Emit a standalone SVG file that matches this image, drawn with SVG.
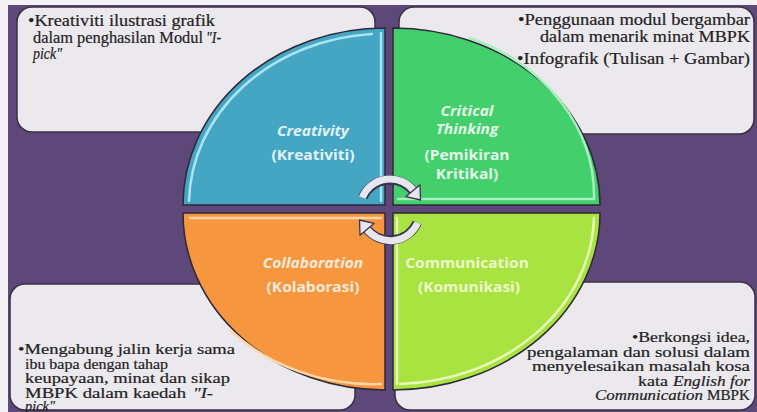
<svg xmlns="http://www.w3.org/2000/svg" width="757" height="412" viewBox="0 0 757 412">
<defs>
<style>
.box{fill:#ECE9EE;stroke:#3a3045;stroke-width:1.5}
.bt{font-family:"Liberation Serif","Times New Roman",serif;fill:#222;stroke:#222;stroke-width:0.2}
.t1{font-size:16px}
.t2{font-size:14px}
.it{font-style:italic}
.q{stroke:#2e2838;stroke-width:1.5}
.hl{fill:none;stroke-width:2.5;stroke-linecap:round}
.ct{font-family:"Open Sans","DejaVu Sans",sans-serif;font-weight:700;font-size:13.5px;text-anchor:middle}
.arc{fill:none;stroke-linecap:butt}
</style>
</defs>
<rect x="0" y="0" width="757" height="412" fill="#F4F2F5"/>
<rect x="8" y="5" width="749" height="407" fill="#5E4779"/>

<g id="box-tl">
<rect class="box" x="17" y="7" width="358" height="125" rx="15"/>
<text class="bt t1" x="28" y="26" textLength="187" lengthAdjust="spacingAndGlyphs">•Kreativiti ilustrasi grafik</text>
<text class="bt t1" x="33" y="42.5" textLength="170" lengthAdjust="spacingAndGlyphs">dalam penghasilan Modul</text>
<text class="bt t1 it" x="206" y="42.5" textLength="15" lengthAdjust="spacingAndGlyphs">"I-</text>
<text class="bt t1 it" x="33" y="59" textLength="29" lengthAdjust="spacingAndGlyphs">pick"</text>
</g>

<g id="box-tr">
<rect class="box" x="399" y="7" width="355" height="127" rx="15"/>
<text class="bt t1" x="518" y="25" textLength="232" lengthAdjust="spacingAndGlyphs">•Penggunaan modul bergambar</text>
<text class="bt t1" x="540" y="42" textLength="210" lengthAdjust="spacingAndGlyphs">dalam menarik minat MBPK</text>
<text class="bt t1" x="517" y="64" textLength="233" lengthAdjust="spacingAndGlyphs">•Infografik (Tulisan + Gambar)</text>
</g>

<g id="box-bl">
<rect class="box" x="10" y="284" width="345" height="126" rx="15"/>
<text class="bt t2" x="18" y="354" textLength="217" lengthAdjust="spacingAndGlyphs">•Mengabung jalin kerja sama</text>
<text class="bt t2" x="25" y="368.5" textLength="143" lengthAdjust="spacingAndGlyphs">ibu bapa dengan tahap</text>
<text class="bt t2" x="25" y="383" textLength="205" lengthAdjust="spacingAndGlyphs">keupayaan, minat dan sikap</text>
<text class="bt t2" x="25" y="397.5" textLength="161" lengthAdjust="spacingAndGlyphs">MBPK  dalam kaedah</text>
<text class="bt t2 it" x="193" y="397.5" textLength="20" lengthAdjust="spacingAndGlyphs">"I-</text>
<text class="bt t2 it" x="25" y="410.5" textLength="30" lengthAdjust="spacingAndGlyphs">pick"</text>
</g>

<g id="box-br">
<rect class="box" x="395" y="282" width="360" height="128" rx="15"/>
<text class="bt t2" x="632" y="342" textLength="118" lengthAdjust="spacingAndGlyphs">•Berkongsi idea,</text>
<text class="bt t2" x="527" y="356.5" textLength="223" lengthAdjust="spacingAndGlyphs">pengalaman dan solusi dalam</text>
<text class="bt t2" x="532" y="371" textLength="218" lengthAdjust="spacingAndGlyphs">menyelesaikan masalah kosa</text>
<text class="bt t2" x="638" y="385.5" textLength="30" lengthAdjust="spacingAndGlyphs">kata</text>
<text class="bt t2 it" x="673" y="385.5" textLength="77" lengthAdjust="spacingAndGlyphs">English for</text>
<text class="bt t2 it" x="595" y="400" textLength="108" lengthAdjust="spacingAndGlyphs">Communication</text>
<text class="bt t2" x="707" y="400" textLength="43" lengthAdjust="spacingAndGlyphs">MBPK</text>
</g>

<g id="q-creativity">
<path class="q" fill="#45A6C4" d="M385 205 L183 205 A202 177 0 0 1 385 28 Z"/>
<path class="hl" stroke="#A9E4F2" d="M189 201 A196 171 0 0 1 372 34"/>
<path class="hl" stroke="#A9E4F2" d="M381 33 L381 201"/>
<g transform="translate(313,136) scale(1.15,1)"><text class="ct" fill="#E2F3F8" font-style="italic" x="0" y="0">Creativity</text></g>
<g transform="translate(313,160) scale(1.15,1)"><text class="ct" fill="#E2F3F8" x="0" y="0">(Kreativiti)</text></g>
</g>

<g id="q-critical">
<path class="q" fill="#42CF6C" d="M393 205 L393 28 A207 177 0 0 1 600 205 Z"/>
<path class="hl" stroke="#A6F0BE" d="M470 38 A201 171 0 0 1 594 199"/>
<path class="hl" stroke="#A6F0BE" d="M398 199 L594 199"/>
<g transform="translate(467,116) scale(1.15,1)"><text class="ct" fill="#E4F7E8" font-style="italic" x="0" y="0">Critical</text></g>
<g transform="translate(467,134) scale(1.15,1)"><text class="ct" fill="#E4F7E8" font-style="italic" x="0" y="0">Thinking</text></g>
<g transform="translate(467,160) scale(1.15,1)"><text class="ct" fill="#E4F7E8" x="0" y="0">(Pemikiran</text></g>
<g transform="translate(467,179) scale(1.15,1)"><text class="ct" fill="#E4F7E8" x="0" y="0">Kritikal)</text></g>
</g>

<g id="q-collaboration">
<path class="q" fill="#F6963F" d="M385 213 L385 390 A202 177 0 0 1 183 213 Z"/>
<path class="hl" stroke="#FFD7A8" d="M190 218 L381 218"/>
<path class="hl" stroke="#FFD7A8" d="M381 384 A196 171 0 0 1 230 330"/>
<g transform="translate(313,268) scale(1.15,1)"><text class="ct" fill="#FBEBDC" font-style="italic" x="0" y="0">Collaboration</text></g>
<g transform="translate(313,292) scale(1.15,1)"><text class="ct" fill="#FBEBDC" x="0" y="0">(Kolaborasi)</text></g>
</g>

<g id="q-communication">
<path class="q" fill="#A8E341" d="M393 213 L600 213 A207 177 0 0 1 393 390 Z"/>
<path class="hl" stroke="#E9F9B8" d="M397 218 L397 384"/>
<path class="hl" stroke="#E9F9B8" d="M594 218 A201 171 0 0 1 400 384"/>
<g transform="translate(467,268) scale(1.15,1)"><text class="ct" fill="#EEF8CC" x="0" y="0">Communication</text></g>
<g transform="translate(469,292) scale(1.15,1)"><text class="ct" fill="#EEF8CC" x="0" y="0">(Komunikasi)</text></g>
</g>

<g id="connectors">
<path class="arc" stroke="#3a3350" stroke-width="9.5" d="M362.8 197.3 A30 30 0 0 1 413 190.7"/>
<path class="arc" stroke="#E6E6EE" stroke-width="7" d="M362.3 197.5 A30 30 0 0 1 413.5 190.2"/>
<polygon points="420,184.8 406,196.6 420.5,200" fill="#E6E6EE" stroke="#3a3350" stroke-width="1.3" stroke-linejoin="round"/>
<path class="arc" stroke="#3a3350" stroke-width="9.5" d="M417.2 222.7 A30 30 0 0 1 367 229.3"/>
<path class="arc" stroke="#E6E6EE" stroke-width="7" d="M417.7 222.9 A30 30 0 0 1 366.6 229"/>
<polygon points="360,235.2 374,223.4 359.5,220" fill="#E6E6EE" stroke="#3a3350" stroke-width="1.3" stroke-linejoin="round"/>
</g>
</svg>
